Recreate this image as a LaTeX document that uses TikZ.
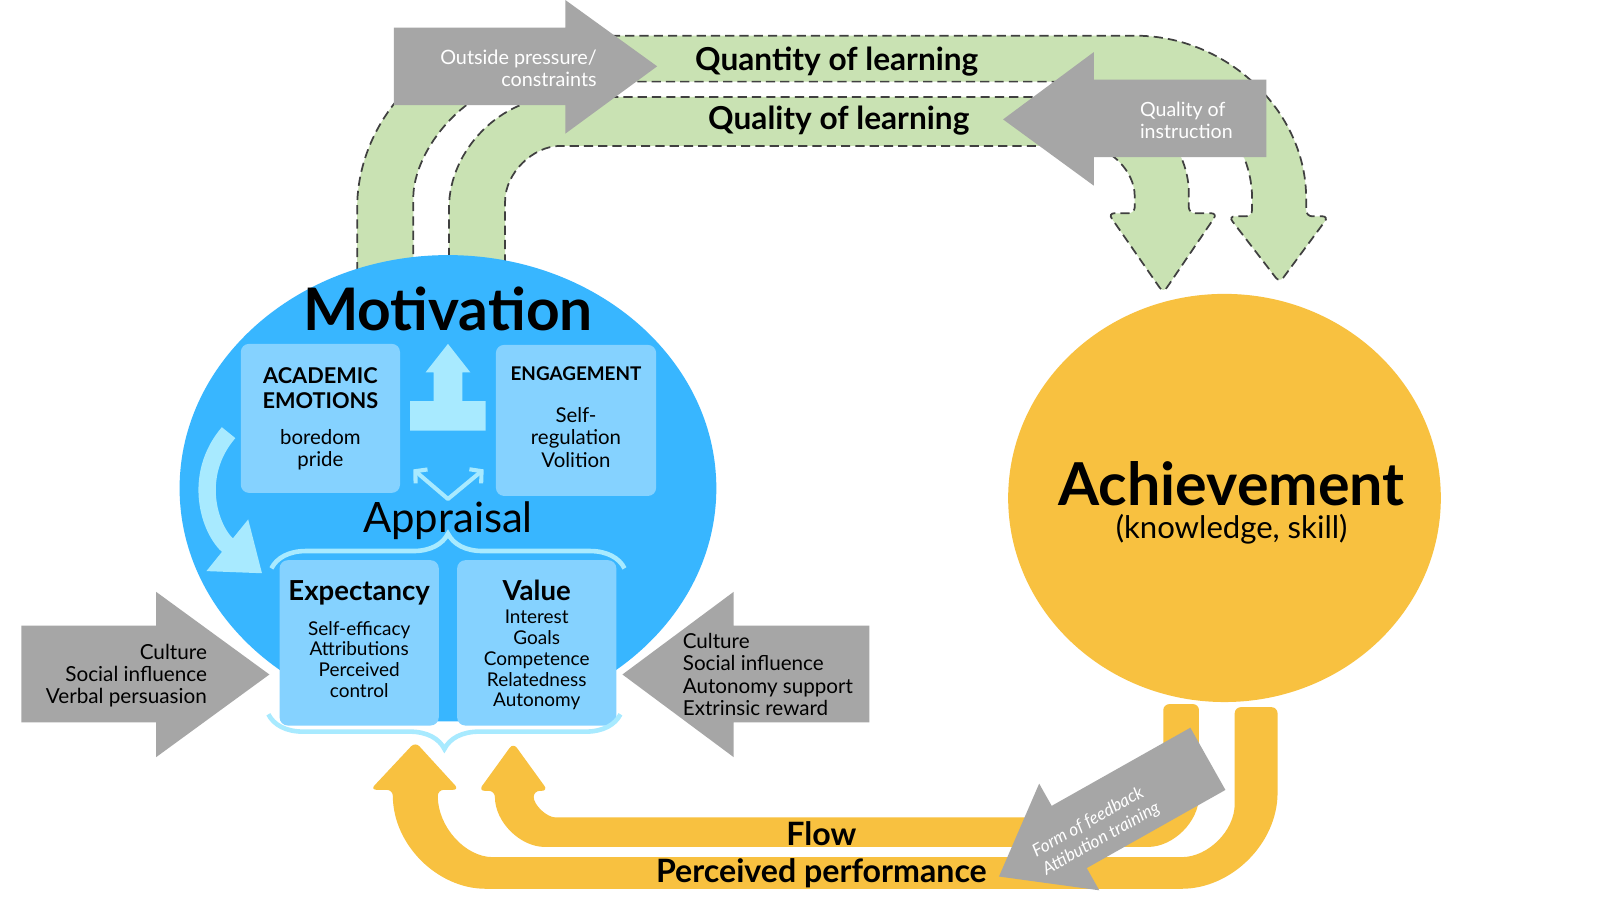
\documentclass[tikz,border=0pt]{standalone}
\usepackage{fontspec}
\setmainfont{Lato}
\usepackage{tikz}
\usetikzlibrary{positioning,arrows.meta,shapes.geometric,decorations.pathreplacing}
\definecolor{motblue}{RGB}{56,182,255}
\definecolor{boxblue}{RGB}{133,210,255}
\definecolor{paleblue}{RGB}{168,234,255}
\definecolor{learngreen}{RGB}{201,226,179}
\definecolor{dashgray}{RGB}{64,64,64}
\definecolor{pushgray}{RGB}{166,166,166}
\definecolor{achgold}{RGB}{248,193,64}
\newcommand{\fsz}[2]{\fontsize{#1}{#2}\selectfont}

\begin{document}
\begin{tikzpicture}[x=1pt, y=-1pt,
  learn/.style={fill=learngreen, draw=dashgray, line width=1.7pt,
                dash pattern=on 9pt off 5pt, rounded corners=6pt},
  fbband/.style={fill=achgold, rounded corners=6pt},
  push/.style={fill=pushgray},
  part/.style={rectangle, fill=boxblue, rounded corners=8pt, minimum width=156pt, inner sep=0pt},
  lbl/.style={inner sep=0pt, align=center, text=black},
  wlbl/.style={inner sep=0pt, text=white},
  brc/.style={draw=paleblue, line width=4.5pt, decorate, decoration={brace, amplitude=34pt}},
  brcm/.style={draw=paleblue, line width=4.5pt, decorate, decoration={brace, amplitude=34pt, mirror}},
]

\useasboundingbox (0,0) rectangle (1568,882);
\fill[white] (0,0) rectangle (1568,882);

% learning flows
\draw[learn] (350,300) -- (350,210) .. controls (350,113.4) and (428.4,35) .. (525,35)
  -- (1107,35) .. controls (1202.5,35) and (1280,109) .. (1280,200)
  -- (1280,212) -- (1302,212) -- (1254,277) -- (1204,212) -- (1227,212)
  -- (1227,200) .. controls (1227,133.8) and (1173.2,80) .. (1107,80)
  -- (525,80) .. controls (458.8,80) and (405,146.2) .. (405,200) -- (405,300) -- cycle;
\draw[learn] (440,300) -- (440,210) .. controls (440,146.5) and (491.5,95) .. (555,95)
  -- (1065,95) .. controls (1120.2,95) and (1165,139.8) .. (1165,195)
  -- (1165,209) -- (1193,209) -- (1140,287) -- (1086,209) -- (1112,209)
  -- (1112,198) .. controls (1112,167.6) and (1087.4,143) .. (1057,143)
  -- (555,143) .. controls (522,143) and (495,170) .. (495,203) -- (495,300) -- cycle;

\fill[push] (386,27) -- (554,27) -- (554,0) -- (644,65) -- (554,131) -- (554,103) -- (386,103) -- cycle;
\fill[push] (1241,78) -- (1072,78) -- (1072,51) -- (983,117) -- (1072,182) -- (1072,154) -- (1241,154) -- cycle;

\node[wlbl, align=right, anchor=east, font=\fsz{19.4}{21.5}] (press) at (585,67) {Outside pressure/\\constraints};
\node[wlbl, align=left, anchor=west, font=\fsz{19.2}{21}] (instr) at (1117,118) {Quality of\\instruction};
\node[lbl, anchor=base, font=\bfseries\fsz{31}{34}] (quant) at (820,69) {Quantity of learning};
\node[lbl, anchor=base, font=\bfseries\fsz{31}{34}] (qual) at (822,127) {Quality of learning};

% feedback loops
\fill[fbband] (1210,693) -- (1252,693) -- (1252,771) .. controls (1252,826.2) and (1207.2,871) .. (1152,871)
  -- (482,871) .. controls (428.5,871) and (385,827.5) .. (385,774)
  -- (363,774) -- (407,727) -- (450,774) -- (429,774)
  .. controls (429,810.4) and (456,840) .. (489,840)
  -- (1152,840) .. controls (1184,840) and (1210,814) .. (1210,782) -- cycle;
\fill[fbband] (1140,690) -- (1175,690) -- (1175,774) .. controls (1175,805) and (1150,830) .. (1119,830)
  -- (540,830) .. controls (509.6,830) and (485,805.4) .. (485,775)
  -- (469,775) -- (503,728) -- (537,775) -- (523,775)
  .. controls (523,789) and (536,801) .. (550,801)
  -- (1115,801) .. controls (1129,801) and (1140,790) .. (1140,776) -- cycle;
\node[lbl, anchor=base, font=\bfseries\fsz{31.5}{34}] (flow) at (805,829) {Flow};
\node[lbl, anchor=base, font=\bfseries\fsz{31.5}{34}] (perf) at (805,865) {Perceived performance};

% the two states
\node[ellipse, fill=motblue, minimum width=526pt, minimum height=457pt, inner sep=0pt] (mot) at (439,478.5) {};
\node[ellipse, fill=achgold, minimum width=424pt, minimum height=400pt, inner sep=0pt] (ach) at (1200,488) {};
\node[lbl, anchor=base, font=\bfseries\fsz{57.5}{60}] (mottl) at (439,324) {Motivation};
\node[lbl, anchor=base, font=\bfseries\fsz{58}{60}] (achtl) at (1207,495) {Achievement};
\node[lbl, anchor=base, font=\fsz{30.5}{34}] (achsub) at (1207,528) {(knowledge, skill)};

\fill[push] (21,613) -- (153,613) -- (153,580) -- (264,661) -- (153,742) -- (153,708) -- (21,708) -- cycle;
\fill[push] (852,613) -- (719,613) -- (719,580) -- (610,661) -- (719,742) -- (719,708) -- (852,708) -- cycle;
\node[lbl, align=right, anchor=east, font=\fsz{20.3}{21.8}] (lsrc) at (203,662) {Culture\\Social influence\\Verbal persuasion};
\node[lbl, align=left, anchor=west, font=\fsz{20.2}{21.8}] (rsrc) at (669,661) {Culture\\Social influence\\Autonomy support\\Extrinsic reward};

% inside motivation
\node[part, minimum height=146pt] (emo) at (314,410) {};
\node[part, minimum width=157pt, minimum height=148pt] (eng) at (564.5,412) {};
\node[part, minimum height=162pt] (exp) at (352,630) {};
\node[part, minimum height=162pt] (val) at (526,630) {};

\node[lbl, font=\bfseries\fsz{21.3}{24.5}] (emohd) at (314,380.5) {ACADEMIC\\EMOTIONS};
\node[lbl, font=\fsz{20}{21.6}] (emotx) at (314,441) {boredom\\pride};
\node[lbl, font=\bfseries\fsz{18.5}{22}] (enghd) at (564.5,366) {ENGAGEMENT};
\node[lbl, font=\fsz{20}{22}] (engtx) at (564.5,428.5) {Self-\\regulation\\Volition};
\node[lbl, anchor=base, font=\bfseries\fsz{27}{30}] (exphd) at (352,588) {Expectancy};
\node[lbl, anchor=base, font=\bfseries\fsz{27}{30}] (valhd) at (526,588) {Value};
\node[lbl, font=\fsz{18.6}{20.3}] (exptx) at (352,646) {Self-efficacy\\Attributions\\Perceived\\control};
\node[lbl, font=\fsz{18.6}{20.3}] (valtx) at (526,647) {Interest\\Goals\\Competence\\Relatedness\\Autonomy};

\fill[paleblue] (439,337) -- (461,365) -- (453,365) -- (453,393) -- (476,393) -- (476,422)
  -- (402,422) -- (402,393) -- (425,393) -- (425,365) -- (417,365) -- cycle;
\coordinate (vl) at (405,460);
\coordinate (vm) at (439,489);
\coordinate (vr) at (474,460);
\draw[paleblue, line width=4pt, line join=round,
      {Straight Barb[length=8pt,width=18pt]}-{Straight Barb[length=8pt,width=18pt]}] (vl) -- (vm) -- (vr);
\coordinate (cs) at (224,424);
\coordinate (ce) at (257,562);
\draw[paleblue, line width=17pt, -{Triangle[length=44pt,width=62pt]}]
  (cs) .. controls (188,466) and (205,520) .. (ce);

\node[lbl, anchor=base, font=\fsz{41}{44}] (appr) at (439,522) {Appraisal};
\draw[brc] (266,557) -- (612,557);
\draw[brcm] (263,700) -- (608,700);

% feedback from achievement
\begin{scope}[shift={(979,859)}, rotate=29.4]
  \fill[push] (0,0) -- (79,-60) -- (79,-35) -- (235,-35) -- (235,35) -- (79,35) -- (79,60) -- cycle;
  \node[wlbl, rotate=29.4, align=left, anchor=west, font=\itshape\fsz{17}{20.5}] (fb) at (41,7)
    {Form of feedback\\Attibution training};
\end{scope}

\end{tikzpicture}
\end{document}
